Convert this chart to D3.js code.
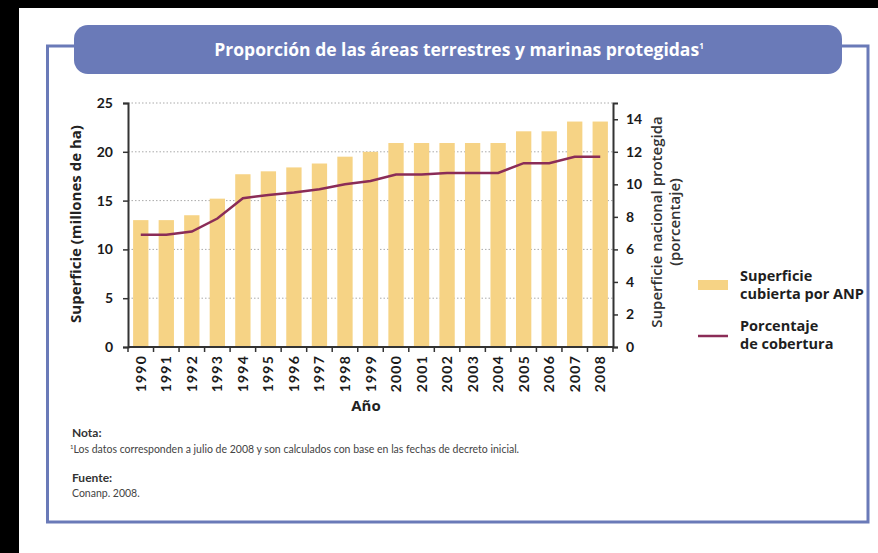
<!DOCTYPE html>
<html>
<head>
<meta charset="utf-8">
<script src="https://cdn.jsdelivr.net/npm/d3@7"></script>
<style>
  body { margin: 0; background: #fff; }
  svg { display: block; font-family: "Open Sans", Lato, sans-serif; }
</style>
</head>
<body>
<div id="chart"></div>
<script>
// data
var years = ["1990","1991","1992","1993","1994","1995","1996","1997","1998","1999",
             "2000","2001","2002","2003","2004","2005","2006","2007","2008"];
var superficie = [13.0, 13.0, 13.5, 15.2, 17.7, 18.0, 18.4, 18.8, 19.5, 20.0,
                  20.9, 20.9, 20.9, 20.9, 20.9, 22.1, 22.1, 23.1, 23.1];
var porcentaje = [6.9, 6.9, 7.1, 7.9, 9.15, 9.35, 9.5, 9.7, 10.0, 10.2,
                  10.6, 10.6, 10.7, 10.7, 10.7, 11.3, 11.3, 11.7, 11.7];
var leftTicks = [0, 5, 10, 15, 20, 25];
var rightTicks = [0, 2, 4, 6, 8, 10, 12, 14];

function draw() {
    var W = 878, H = 553;
    var frameCol = "#6a7ab8";
    var barCol = "#f6d385";
    var lineCol = "#8b2c57";

    var svg = d3.select("#chart").append("svg")
        .attr("width", W).attr("height", H);

    // black scan borders
    svg.append("rect").attr("x", 0).attr("y", 0).attr("width", W).attr("height", 8).attr("fill", "#000");
    svg.append("rect").attr("x", 0).attr("y", 0).attr("width", 19).attr("height", H).attr("fill", "#000");

    // frame
    svg.append("path")
        .attr("d", "M74,46 H47.5 V522 H868 V46 H842")
        .attr("fill", "none").attr("stroke", frameCol).attr("stroke-width", 3);
    svg.append("rect")
        .attr("x", 74).attr("y", 25).attr("width", 768).attr("height", 49)
        .attr("rx", 14).attr("fill", frameCol);
    var title = svg.append("text")
        .attr("x", 459).attr("y", 56).attr("text-anchor", "middle")
        .attr("fill", "#fff").attr("font-weight", "bold").attr("font-size", 17.5);
    title.append("tspan").text("Proporción de las áreas terrestres y marinas protegidas");
    title.append("tspan").attr("dy", -7).attr("font-size", 8).text("1");

    var pl = 128, pr = 613, pt = 103, pb = 347;

    var x = d3.scaleBand().domain(years).range([pl, pr])
        .paddingInner(0.4).paddingOuter(0.2);
    var yL = d3.scaleLinear().domain([0, 25]).range([pb, pt]);
    var yR = d3.scaleLinear().domain([0, 15]).range([pb, pt]);

    // dotted grid
    svg.append("g").selectAll("line")
        .data(leftTicks.filter(function (d) { return d > 0; }))
        .enter().append("line")
        .attr("x1", pl).attr("x2", pr)
        .attr("y1", function (d) { return yL(d); })
        .attr("y2", function (d) { return yL(d); })
        .attr("stroke", "#aaa").attr("stroke-width", 1)
        .attr("stroke-dasharray", "1.5,2");

    // bars
    svg.append("g").selectAll("rect")
        .data(superficie).enter().append("rect")
        .attr("x", function (d, i) { return x(years[i]); })
        .attr("y", function (d) { return yL(d); })
        .attr("width", x.bandwidth())
        .attr("height", function (d) { return pb - yL(d); })
        .attr("fill", barCol);

    // line
    var line = d3.line()
        .x(function (d, i) { return x(years[i]) + x.bandwidth() / 2; })
        .y(function (d) { return yR(d); });
    svg.append("path").datum(porcentaje)
        .attr("d", line).attr("fill", "none")
        .attr("stroke", lineCol).attr("stroke-width", 2.5);

    // axes
    var axisCol = "#333";
    var gL = svg.append("g").attr("transform", "translate(" + pl + ",0)")
        .call(d3.axisLeft(yL).tickValues(leftTicks).tickSize(5).tickPadding(10));
    var gR = svg.append("g").attr("transform", "translate(" + pr + ",0)")
        .call(d3.axisRight(yR).tickValues(rightTicks).tickSize(5).tickPadding(8));
    [gL, gR].forEach(function (g) {
        g.select(".domain").attr("stroke", axisCol).attr("stroke-width", 2);
        g.selectAll(".tick line").attr("stroke", axisCol).attr("stroke-width", 1.5);
        g.selectAll("text").attr("font-size", 14).attr("font-weight", "bold")
            .attr("fill", "#1a1a1a").attr("font-family", "Lato, sans-serif");
    });

    // x axis with ticks between bands
    var gX = svg.append("g").attr("transform", "translate(0," + pb + ")");
    gX.append("line").attr("x1", pl).attr("x2", pr)
        .attr("stroke", axisCol).attr("stroke-width", 2);
    var step = x.step();
    var bounds = years.map(function (d) { return x(d) - step * 0.2; });
    bounds.push(pr);
    gX.selectAll(".bt").data(bounds).enter().append("line")
        .attr("x1", function (d) { return d; }).attr("x2", function (d) { return d; })
        .attr("y1", 0).attr("y2", 5)
        .attr("stroke", axisCol).attr("stroke-width", 1.5);
    gX.selectAll(".yl").data(years).enter().append("text")
        .attr("transform", function (d) {
            return "translate(" + (x(d) + x.bandwidth() / 2 + 5) + ",8) rotate(-90)";
        })
        .attr("text-anchor", "end")
        .attr("font-family", "Lato, sans-serif").attr("letter-spacing", 1.2)
        .attr("font-size", 14).attr("font-weight", "bold").attr("fill", "#1a1a1a")
        .text(function (d) { return d; });

    // axis titles
    svg.append("text")
        .attr("transform", "translate(81,224) rotate(-90)")
        .attr("text-anchor", "middle").attr("font-size", 15).attr("font-weight", "bold")
        .attr("fill", "#222").text("Superficie (millones de ha)");
    var rt = svg.append("text")
        .attr("transform", "translate(662,222) rotate(-90)")
        .attr("text-anchor", "middle").attr("font-size", 15).attr("font-weight", 600)
        .attr("fill", "#333");
    rt.append("tspan").attr("x", 0).attr("dy", 0).text("Superficie nacional protegida");
    rt.append("tspan").attr("x", 0).attr("dy", 18).text("(porcentaje)");
    svg.append("text")
        .attr("x", 366).attr("y", 411).attr("text-anchor", "middle")
        .attr("font-size", 15).attr("font-weight", "bold").attr("fill", "#222")
        .text("Año");

    // legend
    var lg = svg.append("g").attr("font-size", 14.5).attr("font-weight", "bold").attr("fill", "#1e1e1e");
    lg.append("rect").attr("x", 698).attr("y", 280).attr("width", 30).attr("height", 10).attr("fill", barCol);
    lg.append("text").attr("x", 740).attr("y", 281).text("Superficie");
    lg.append("text").attr("x", 740).attr("y", 299).text("cubierta por ANP");
    lg.append("line").attr("x1", 698).attr("x2", 728).attr("y1", 336).attr("y2", 336)
        .attr("stroke", lineCol).attr("stroke-width", 2.5);
    lg.append("text").attr("x", 740).attr("y", 331).text("Porcentaje");
    lg.append("text").attr("x", 740).attr("y", 349).text("de cobertura");

    // notes
    var nt = svg.append("g").attr("fill", "#333").attr("font-family", "Lato, sans-serif");
    nt.append("text").attr("x", 72).attr("y", 437).attr("font-size", 12)
        .attr("font-weight", "bold").text("Nota:");
    var n1 = nt.append("text").attr("x", 70).attr("y", 453).attr("font-size", 10.5).attr("fill", "#444");
    n1.append("tspan").attr("font-size", 6).attr("dy", -4).text("1");
    n1.append("tspan").attr("dy", 4)
        .text("Los datos corresponden a  julio de 2008  y son calculados con base en las fechas de decreto inicial.");
    nt.append("text").attr("x", 72).attr("y", 482).attr("font-size", 12)
        .attr("font-weight", "bold").text("Fuente:");
    nt.append("text").attr("x", 72).attr("y", 497).attr("font-size", 10.5).attr("fill", "#444")
        .text("Conanp. 2008.");
}
draw();
</script>
</body>
</html>
